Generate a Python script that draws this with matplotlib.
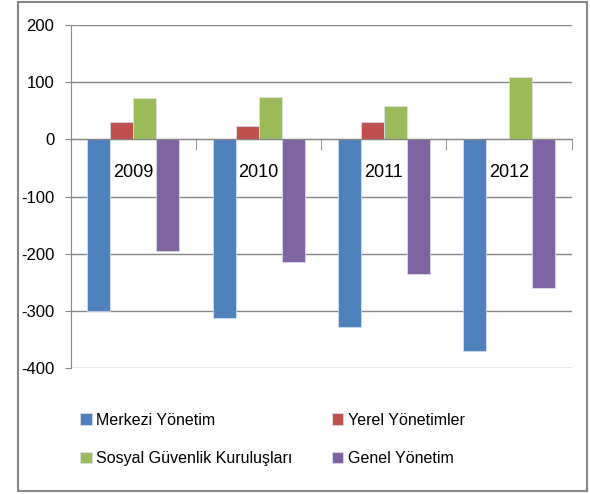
import numpy as np
import matplotlib.pyplot as plt
from matplotlib.patches import Rectangle

# ==========================
# Veri
# ==========================
years = ["2009", "2010", "2011", "2012"]
merkezi = [-300, -313, -329, -370]
yerel = [30, 24, 31, 0]
sosyal = [73, 75, 58, 109]
genel = [-196, -214, -236, -260]

series = [
    ("Merkezi Yönetim", merkezi, "#4F81BD"),
    ("Yerel Yönetimler", yerel, "#C0504D"),
    ("Sosyal Güvenlik Kuruluşları", sosyal, "#9BBB59"),
    ("Genel Yönetim", genel, "#8064A2"),
]

plt.rcParams["font.family"] = ["Liberation Sans", "DejaVu Sans"]
plt.rcParams["axes.unicode_minus"] = False

fig = plt.figure(figsize=(5.9, 4.94), dpi=100)
ax = fig.add_axes([0.120, 0.255, 0.849, 0.694])

x = np.arange(len(years))
w = 0.184
bars = []
for i, (name, vals, col) in enumerate(series):
    b = ax.bar(x + (i - 1.5) * w, vals, width=w, color=col, label=name,
               edgecolor="#dbe4f0", linewidth=0.5, zorder=3)
    bars.append(b)

ax.set_xlim(-0.5, 3.5)
ax.set_ylim(-400, 200)
ax.set_yticks(range(-400, 201, 100))
ax.tick_params(axis="y", labelsize=12, length=4, color="#868686", pad=8)
ax.grid(axis="y", color="#868686", linewidth=1, zorder=0)

ax.spines["top"].set_visible(False)
ax.spines["right"].set_visible(False)
ax.spines["left"].set_color("#868686")
ax.spines["bottom"].set_position(("data", 0))
ax.spines["bottom"].set_color("#868686")
ax.spines["bottom"].set_zorder(4)

ax.set_xticks(x)
ax.set_xticklabels(years)
ax.tick_params(axis="x", which="major", length=0, labelsize=13, pad=18)
ax.set_xticks(list(x[:-1] + 0.5) + [3.5], minor=True)
ax.tick_params(axis="x", which="minor", length=8, color="#868686", direction="out")

# legend satır satır: Merkezi, Yerel / Sosyal, Genel
order = [0, 2, 1, 3]
fig.legend([bars[i] for i in order], [series[i][0] for i in order],
           loc="upper left", bbox_to_anchor=(0.112, 0.194), ncol=2,
           frameon=False, fontsize=11.5, handlelength=0.7, handleheight=0.7,
           handletextpad=0.3, columnspacing=2.45, labelspacing=1.5)

fig.patches.append(Rectangle((0.03, 0.006), 0.965, 0.99, transform=fig.transFigure,
                             fill=False, edgecolor="#868686", linewidth=1.5))

plt.savefig("out.png", dpi=100)
